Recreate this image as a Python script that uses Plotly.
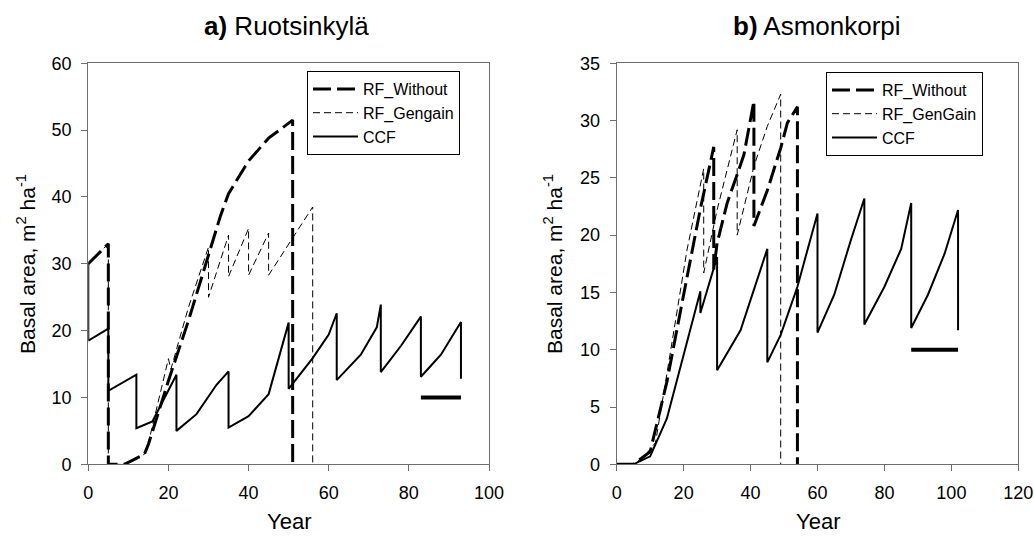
import plotly.graph_objects as go

# ---------- data: a) Ruotsinkylä ----------
a_rfw_year = [0, 5, 5, 9, 11, 14, 15, 20, 25, 30, 33, 35, 40, 45, 49, 51, 51]
a_rfw_ba = [30, 33, 0, 0, 0.6, 1.5, 3, 12.5, 21.5, 31.3, 37.2, 40.5, 45.4, 48.8, 50.6, 51.5, 0]

a_rfg_year = [0, 5, 5, 9, 11, 14, 15, 20, 20.6, 25, 30, 30, 35, 35, 40, 40, 45, 45, 56, 56]
a_rfg_ba = [30, 33, 0, 0, 0.6, 1.5, 3.2, 15.8, 14.2, 23.5, 32.5, 25, 34.3, 28.1, 35.3, 28.3, 34.6, 28.3, 38.5, 0]

a_ccf_year = [0, 0, 5, 5, 12, 12, 16, 22, 22, 27, 32, 35, 35, 40, 45, 50, 50, 56, 60, 62, 62,
              68, 72, 73, 73, 78, 83, 83, 88, 93, 93]
a_ccf_ba = [30, 18.5, 20.3, 11, 13.4, 5.4, 6.4, 13.4, 5.0, 7.5, 11.9, 13.9, 5.5, 7.2, 10.5, 21.2, 11.3,
            15.9, 19.4, 22.6, 12.6, 16.4, 20.5, 23.9, 13.8, 17.7, 22.1, 13.1, 16.4, 21.3, 12.8]

a_bar_year = [83, 93]
a_bar_ba = [10, 10]

# ---------- data: b) Asmonkorpi ----------
b_rfw_year = [0, 5, 10, 15, 20, 25, 29, 29, 30, 33, 36, 38, 41, 41, 45, 49, 51, 53, 54, 54]
b_rfw_ba = [0, 0, 1.1, 7.2, 14.8, 22.3, 27.7, 17.0, 19.3, 22.8, 25.3, 27.0, 31.7, 20.8, 23.9, 27.6, 29.8, 30.8, 31.2, 0]

b_rfg_year = [0, 5, 8, 11.6, 15, 21, 26, 26, 30, 36, 36, 41, 45, 49, 49]
b_rfg_ba = [0, 0, 0.6, 1.9, 7.9, 18.7, 25.8, 16.7, 22.2, 29.2, 20.0, 26.0, 29.5, 32.3, 0]

b_ccf_year = [0, 5, 10, 15, 25, 25, 30, 30, 37, 45, 45, 49, 54, 60, 60, 65, 70, 74, 74,
              80, 85, 88, 88, 93, 98, 102, 102]
b_ccf_ba = [0, 0, 0.7, 4.0, 15.1, 13.2, 18.1, 8.2, 11.7, 18.8, 8.9, 11.3, 15.5, 21.9, 11.5,
            14.8, 19.6, 23.2, 12.2, 15.5, 18.8, 22.8, 11.9, 14.8, 18.4, 22.2, 11.7]

b_bar_year = [88, 102]
b_bar_ba = [10, 10]

a_names = ["RF_Without", "RF_Gengain", "CCF"]
b_names = ["RF_Without", "RF_GenGain", "CCF"]
x_ticks_a = [0, 20, 40, 60, 80, 100]
x_ticks_b = [0, 20, 40, 60, 80, 100, 120]
y_ticks_a = [0, 10, 20, 30, 40, 50, 60]
y_ticks_b = [0, 5, 10, 15, 20, 25, 30, 35]

FONT = "Arial, Liberation Sans, sans-serif"
W, H = 1034, 538

fig = go.Figure()

styles = [
    dict(color="black", width=3, dash="18px,6px"),
    dict(color="black", width=1, dash="7px,4px"),
    dict(color="black", width=2, dash="solid"),
]

for (xs, ys), name, st in zip([(a_rfw_year, a_rfw_ba), (a_rfg_year, a_rfg_ba), (a_ccf_year, a_ccf_ba)], a_names, styles):
    fig.add_trace(go.Scatter(x=xs, y=ys, mode="lines", name=name, line=st,
                             xaxis="x", yaxis="y", legend="legend"))
fig.add_trace(go.Scatter(x=a_bar_year, y=a_bar_ba, mode="lines", line=dict(color="black", width=4),
                         xaxis="x", yaxis="y", showlegend=False))

for (xs, ys), name, st in zip([(b_rfw_year, b_rfw_ba), (b_rfg_year, b_rfg_ba), (b_ccf_year, b_ccf_ba)], b_names, styles):
    fig.add_trace(go.Scatter(x=xs, y=ys, mode="lines", name=name, line=st,
                             xaxis="x2", yaxis="y2", legend="legend2"))
fig.add_trace(go.Scatter(x=b_bar_year, y=b_bar_ba, mode="lines", line=dict(color="black", width=4),
                         xaxis="x2", yaxis="y2", showlegend=False))

def px_x(p):
    return p / W

def px_y(p):
    return 1 - p / H

axis_common = dict(showline=True, linecolor="#6e6e6e", linewidth=1.2, mirror=True,
                   ticks="outside", ticklen=6, tickcolor="#6e6e6e", tickwidth=1.2,
                   showgrid=False, zeroline=False, automargin=False, ticklabelstandoff=6,
                   tickfont=dict(family=FONT, size=18, color="black"))

fig.update_layout(
    template="none",
    width=W, height=H,
    margin=dict(l=0, r=0, t=0, b=0, pad=0),
    paper_bgcolor="white", plot_bgcolor="white",
    font=dict(family=FONT, color="black"),
    xaxis=dict(domain=[px_x(88.3), px_x(489)], range=[0, 100], tickvals=x_ticks_a, anchor="y", **axis_common),
    yaxis=dict(domain=[px_y(464.3), px_y(63.3)], range=[0, 60], tickvals=y_ticks_a, anchor="x", **axis_common),
    xaxis2=dict(domain=[px_x(616.7), px_x(1018.3)], range=[0, 120], tickvals=x_ticks_b, anchor="y2", **axis_common),
    yaxis2=dict(domain=[px_y(464.3), px_y(63.3)], range=[0, 35], tickvals=y_ticks_b, anchor="x2", **axis_common),
    legend=dict(x=px_x(307), y=px_y(71), xanchor="left", yanchor="top", bordercolor="black", borderwidth=1,
                bgcolor="white", font=dict(family=FONT, size=16), tracegroupgap=0, itemwidth=45),
    legend2=dict(x=px_x(826), y=px_y(72), xanchor="left", yanchor="top", bordercolor="black", borderwidth=1,
                 bgcolor="white", font=dict(family=FONT, size=16), tracegroupgap=0, itemwidth=45),
    showlegend=True,
)

ann = []
ann.append(dict(text="<b>a)</b> Ruotsinkylä", x=px_x(286), y=px_y(26), xref="paper", yref="paper",
                showarrow=False, font=dict(family=FONT, size=26), xanchor="center", yanchor="middle"))
ann.append(dict(text="<b>b)</b> Asmonkorpi", x=px_x(817), y=px_y(26), xref="paper", yref="paper",
                showarrow=False, font=dict(family=FONT, size=26), xanchor="center", yanchor="middle"))
for xc in (288.6, 817.5):
    ann.append(dict(text="Year", x=px_x(xc), y=px_y(521), xref="paper", yref="paper",
                    showarrow=False, font=dict(family=FONT, size=22), xanchor="center", yanchor="middle"))
for xc in (26, 553):
    ann.append(dict(text="Basal area, m<sup>2</sup> ha<sup>-1</sup>", x=px_x(xc), y=px_y(264), xref="paper",
                    yref="paper", showarrow=False, textangle=-90, font=dict(family=FONT, size=21),
                    xanchor="center", yanchor="middle"))
fig.update_layout(annotations=ann)

fig.write_html("out.html", config={"responsive": False, "displayModeBar": False},
               post_script="document.body.style.margin='0';document.body.style.padding='0';")
